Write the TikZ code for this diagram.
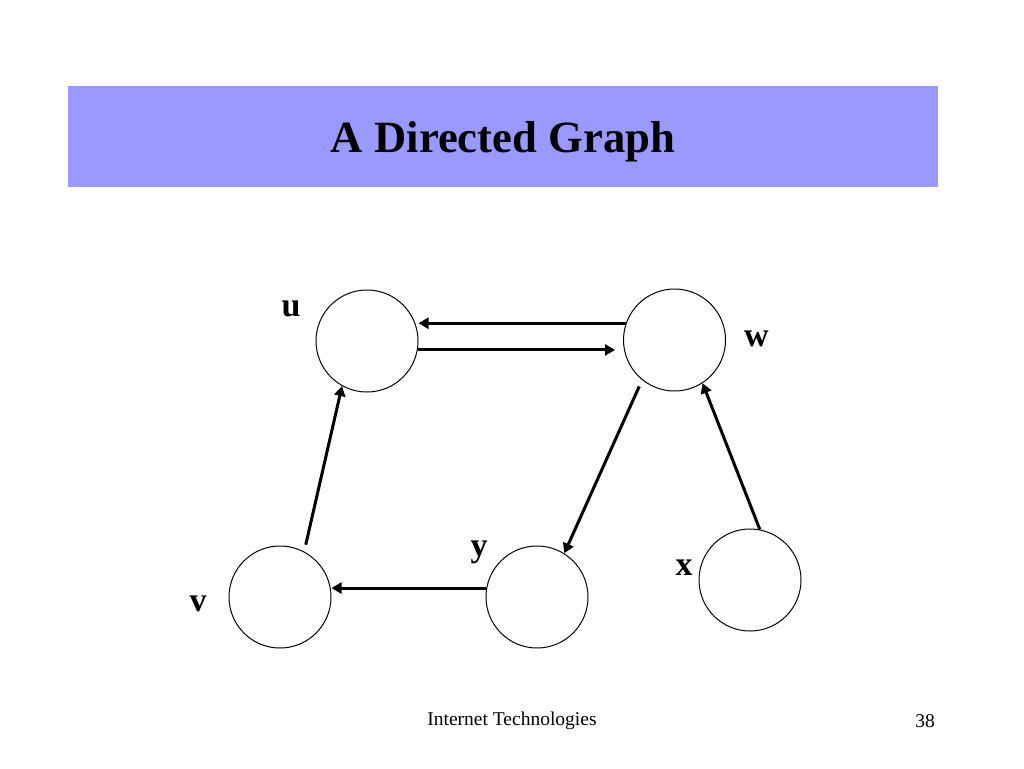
\documentclass[tikz,border=0pt]{standalone}
\usepackage{fontspec}
\setmainfont{Liberation Serif}
\usetikzlibrary{arrows.meta}
\definecolor{titlebar}{HTML}{9999FF}
\begin{document}
\begin{tikzpicture}[x=1pt,y=-1pt,
  vertex/.style={draw=black,line width=1pt,circle,minimum size=102pt,inner sep=0pt},
  vlabel/.style={font=\fontsize{34}{40}\selectfont\bfseries,inner sep=0pt},
  edge/.style={line width=3pt,-{Triangle[length=10pt,width=11pt]}}]
\useasboundingbox (0,0) rectangle (1024,768);
\fill[titlebar] (68,86) rectangle (938,187);
\node[font=\fontsize{44.7}{50}\selectfont\bfseries] (title) at (503,142) {A Directed Graph};
\node[font=\fontsize{19.5}{22}\selectfont] (footer) at (512,721) {Internet Technologies};
\node[font=\fontsize{19.5}{22}\selectfont] (page) at (925,721) {38};

\node[vertex] (u) at (367,341) {};
\node[vertex] (w) at (674.5,340) {};
\node[vertex] (v) at (280,597) {};
\node[vertex] (y) at (537,597) {};
\node[vertex] (x) at (750,580) {};

\node[vlabel] (lu) at (291,309) {u};
\node[vlabel] (lw) at (756.5,339) {w};
\node[vlabel] (ly) at (479,552) {y};
\node[vlabel] (lx) at (684,568) {x};
\node[vlabel] (lv) at (198,604) {v};

\draw[edge] (w.161.7) -- (w.161.7 -| u.east);
\draw[edge,shorten >=8pt] (u.-10) -- (u.-10 -| w.west);
\draw[edge,shorten <=7pt] (v.62.6) -- (u.-119.6);
\draw[edge,shorten <=7pt] (w.-129) -- (y.58.8);
\draw[edge] (x.79) -- (w.-57.7);
\draw[edge] (y.170) -- (y.170 -| v.east);
\end{tikzpicture}
\end{document}
